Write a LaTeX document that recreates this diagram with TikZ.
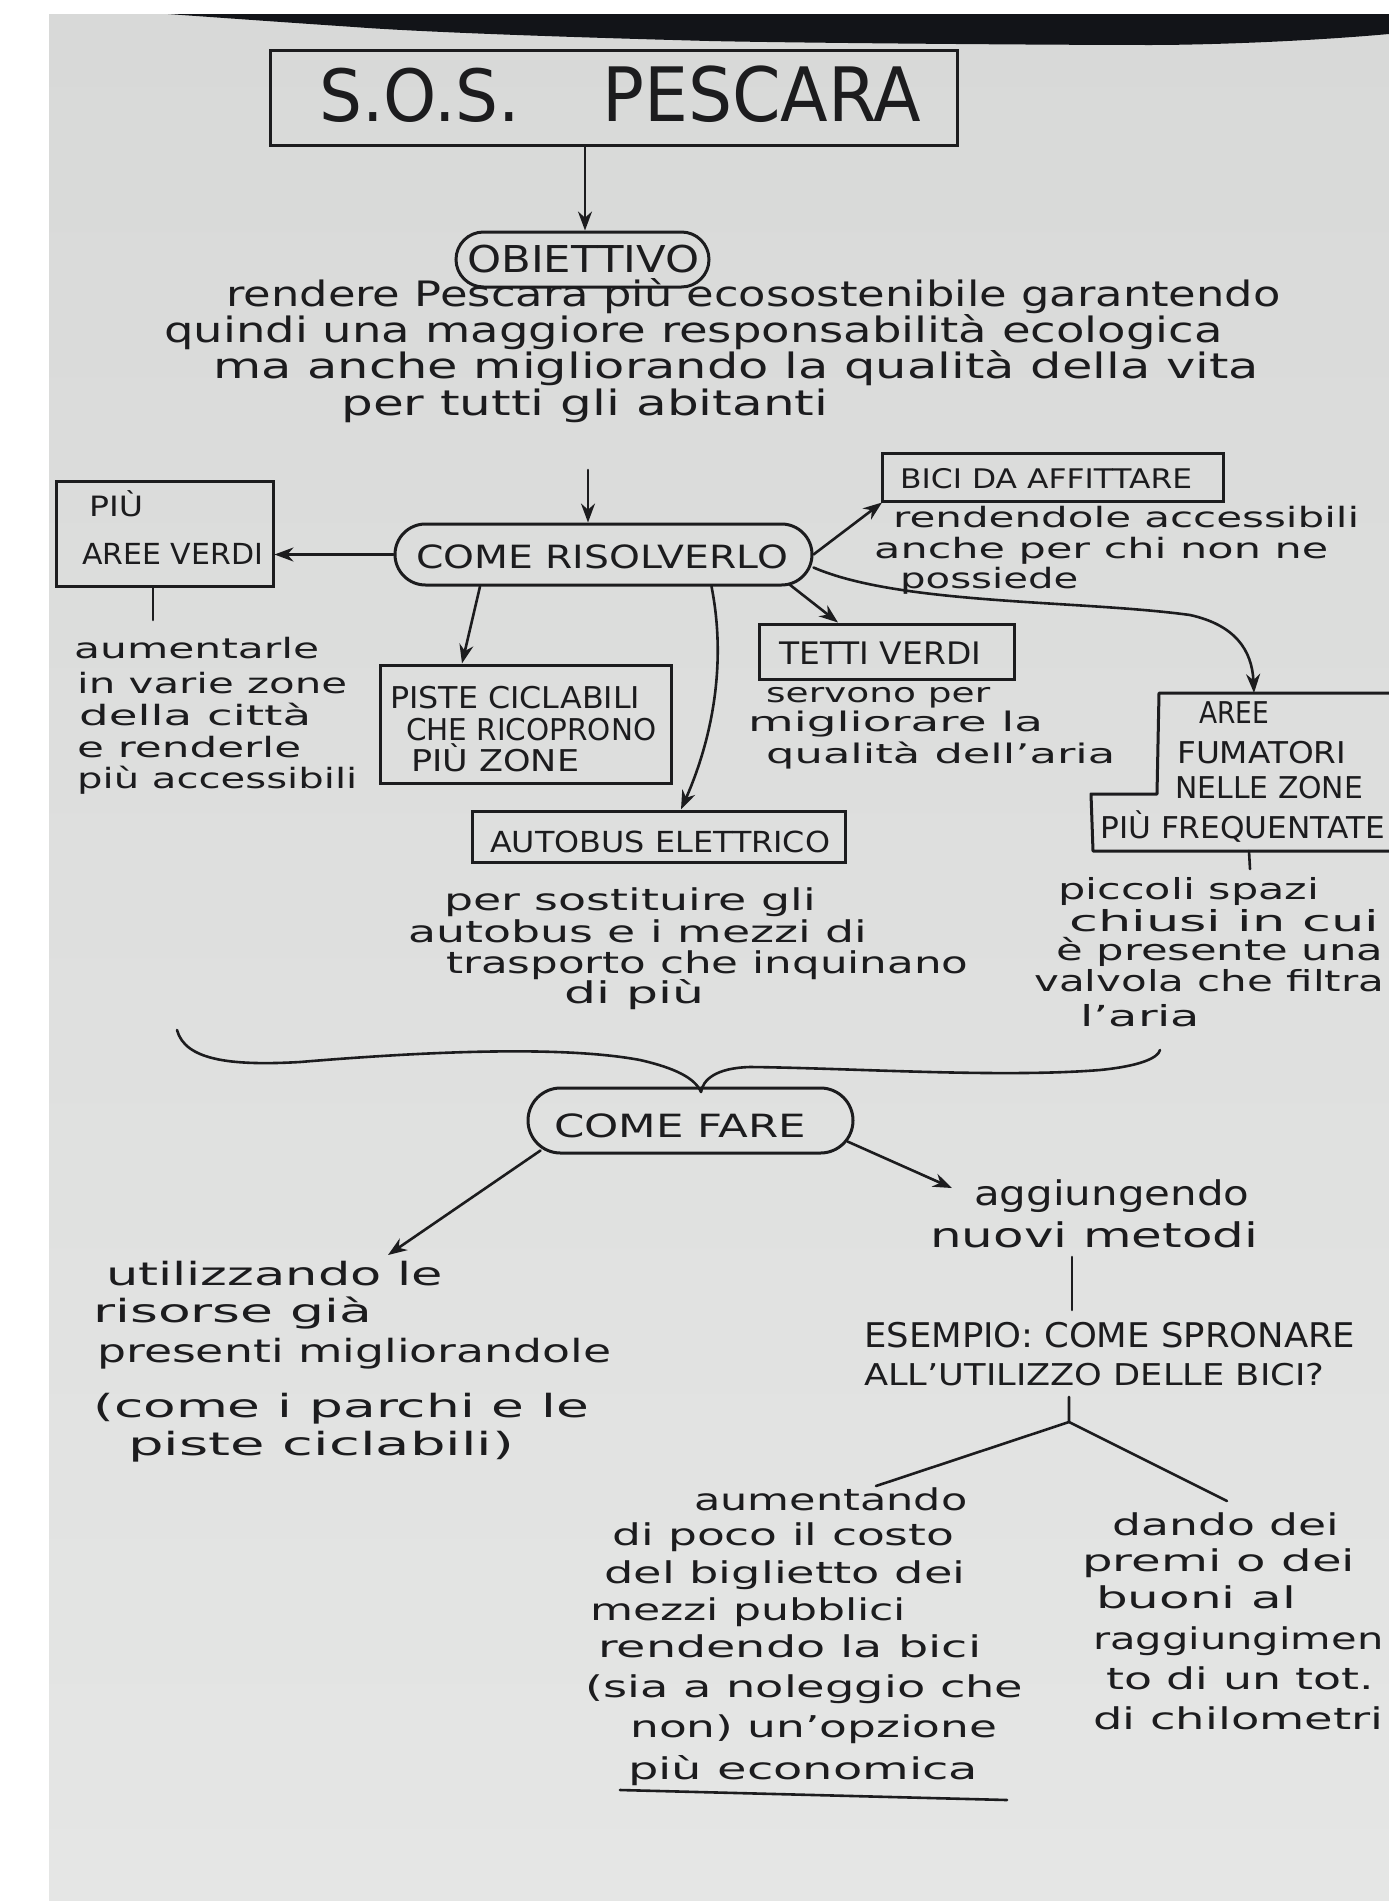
\documentclass[tikz,border=0pt]{standalone}
\usepackage{fontspec}
\setmainfont{DejaVu Sans}
\usepackage{graphicx}
\usetikzlibrary{arrows.meta,shapes.misc,calc}
\definecolor{ink}{RGB}{28,28,30}
\definecolor{paperA}{RGB}{216,217,216}
\definecolor{paperB}{RGB}{229,230,229}
\definecolor{darkband}{RGB}{18,20,24}
\newcommand\fitt[3]{\resizebox{#1pt}{#2pt}{\rule{0pt}{1em}#3}}
\tikzset{
  txt/.style={anchor=base west, inner sep=0pt, text=ink},
  box/.style={draw=ink, line width=3pt, inner sep=0pt},
  oval/.style={rounded rectangle, draw=ink, line width=3pt, inner sep=0pt},
  conn/.style={draw=ink, line width=2.6pt, line cap=round},
  arr/.style={conn, -{Stealth[length=19pt,width=14pt]}},
}
\begin{document}
\begin{tikzpicture}[x=1pt,y=-1pt]
\useasboundingbox (0,0) rectangle (1389,1901);
% background
\fill[white] (0,0) rectangle (1389,1901);
\shade[top color=paperA, bottom color=paperB] (49,14) -- (1389,14) -- (1389,1901) -- (49,1901) -- cycle;
\fill[darkband] (168,14) -- (1389,14) -- (1389,34) .. controls (1300,42) and (1200,45) .. (1151,45)
  .. controls (1050,45) and (800,43) .. (709,41) .. controls (560,37) and (420,32) .. (354,27)
  .. controls (280,22) and (210,17) .. (168,14) -- cycle;

% title
\node[box, minimum width=687pt, minimum height=95pt] (title) at (613.5,97.5) {};
\node[txt] (sos) at (319,121) {\fitt{201}{72}{S.O.S.}};
\node[txt] (pescara) at (602,121) {\fitt{319}{75}{PESCARA}};

% obiettivo
\node[oval, minimum width=253pt, minimum height=55pt] (ob) at (582.5,259.5) {};
\node[txt] (obt) at (467,272) {\fitt{232}{37}{OBIETTIVO}};
\draw[arr] ([xshift=-28.5pt]title.south) -- ([xshift=-28.5pt]title.south |- ob.north);

\node[txt] (p1) at (226,306) {\fitt{1054}{35}{rendere Pescara più ecosostenibile garantendo}};
\node[txt] (p2) at (164,342) {\fitt{1058}{35}{quindi una maggiore responsabilità ecologica}};
\node[txt] (p3) at (213,378) {\fitt{1045}{35}{ma anche migliorando la qualità della vita}};
\node[txt] (p4) at (341,415) {\fitt{487}{35}{per tutti gli abitanti}};
\coordinate (pa) at (588,470);

% come risolverlo
\node[oval, minimum width=417pt, minimum height=61pt] (cr) at (603.5,554.5) {};
\node[txt] (crt) at (416,568) {\fitt{372}{32}{COME RISOLVERLO}};
\draw[arr] (pa) -- (pa |- cr.north);

% piu aree verdi
\node[box, minimum width=217pt, minimum height=105pt] (av) at (164.5,533.5) {};
\node[txt] (av1) at (89,516) {\fitt{54}{28}{PIÙ}};
\node[txt] (av2) at (82,564) {\fitt{181}{29}{AREE VERDI}};
\draw[arr] (cr.west) -- (cr.west -| av.east);
\coordinate (avl) at (153,620);
\draw[conn] ([xshift=-11.5pt]av.south) -- (avl);
\node[txt] (a1) at (74,658) {\fitt{245}{28}{aumentarle}};
\node[txt] (a2) at (77,693) {\fitt{270}{28}{in varie zone}};
\node[txt] (a3) at (79,725) {\fitt{232}{28}{della città}};
\node[txt] (a4) at (77,757) {\fitt{224}{28}{e renderle}};
\node[txt] (a5) at (77,788) {\fitt{280}{28}{più accessibili}};

% piste ciclabili
\node[box, minimum width=291pt, minimum height=118pt] (pc) at (525.5,724) {};
\node[txt] (pc1) at (390,708) {\fitt{250}{30}{PISTE CICLABILI}};
\node[txt] (pc2) at (406,740) {\fitt{250}{30}{CHE RICOPRONO}};
\node[txt] (pc3) at (411,771) {\fitt{168}{30}{PIÙ ZONE}};
\draw[arr] ([xshift=-123.5pt]cr.south) -- ([xshift=-63.5pt]pc.north);

% autobus elettrico
\node[box, minimum width=373pt, minimum height=51pt] (ab) at (658.5,836.5) {};
\node[txt] (abt) at (490,852) {\fitt{340}{29}{AUTOBUS ELETTRICO}};
\draw[arr] ([xshift=108pt]cr.south) .. controls (730,680) and (703,760) .. ([xshift=22.5pt]ab.north);
\node[txt] (b1) at (444,910) {\fitt{372}{30}{per sostituire gli}};
\node[txt] (b2) at (408,942) {\fitt{459}{30}{autobus e i mezzi di}};
\node[txt] (b3) at (446,973) {\fitt{522}{30}{trasporto che inquinano}};
\node[txt] (b4) at (564,1003) {\fitt{140}{30}{di più}};

% tetti verdi
\node[box, minimum width=255pt, minimum height=55pt] (tv) at (886.5,651.5) {};
\node[txt] (tvt) at (779,664) {\fitt{202}{31}{TETTI VERDI}};
\draw[arr] ([xshift=186pt,yshift=2pt]cr.south) -- ([xshift=-48.5pt]tv.north);
\node[txt] (t1) at (766,702) {\fitt{224}{27}{servono per}};
\node[txt] (t2) at (748,731) {\fitt{295}{27}{migliorare la}};
\node[txt] (t3) at (766,763) {\fitt{349}{27}{qualità dell'aria}};

% bici da affittare
\node[box, minimum width=341pt, minimum height=48pt] (bd) at (1052.5,477) {};
\node[txt] (bdt) at (900,488) {\fitt{292}{27}{BICI DA AFFITTARE}};
\draw[arr] (cr.east) -- ([xshift=-170.5pt]bd.south);
\node[txt] (r1) at (893,527) {\fitt{466}{28}{rendendole accessibili}};
\node[txt] (r2) at (874,558) {\fitt{454}{28}{anche per chi non ne}};
\node[txt] (r3) at (900,588) {\fitt{178}{28}{possiede}};

% aree fumatori
\draw[box, line join=round] (1400,693) -- (1159,693) -- (1157,794) -- (1091,794) -- (1093,851) -- (1400,851);
\coordinate (aftop) at (1254,693);
\coordinate (afbot) at (1249,851);
\coordinate (afl) at (1250,869);
\node[txt] (af1) at (1199,723) {\fitt{70}{30}{AREE}};
\node[txt] (af2) at (1177,763) {\fitt{169}{30}{FUMATORI}};
\node[txt] (af3) at (1175,798) {\fitt{188}{30}{NELLE ZONE}};
\node[txt] (af4) at (1100,838) {\fitt{285}{30}{PIÙ FREQUENTATE}};
\draw[arr] ([yshift=-13pt]cr.east) .. controls (900,605) and (1080,600) .. (1190,615)
  .. controls (1235,625) and (1252,650) .. (aftop);
\draw[conn] (afbot) -- (afl);
\node[txt] (f1) at (1058,899) {\fitt{261}{29}{piccoli spazi}};
\node[txt] (f2) at (1069,931) {\fitt{310}{29}{chiusi in cui}};
\node[txt] (f3) at (1056,960) {\fitt{327}{29}{è presente una}};
\node[txt] (f4) at (1034,991) {\fitt{350}{29}{valvola che filtra}};
\node[txt] (f5) at (1080,1026) {\fitt{120}{29}{l'aria}};

% brace and come fare
\node[oval, minimum width=325pt, minimum height=65pt] (cf) at (690.5,1120.5) {};
\node[txt] (cft) at (554,1137) {\fitt{252}{32}{COME FARE}};
\coordinate (btip) at (701,1092);
\draw[conn] (177,1030) .. controls (185,1060) and (230,1066) .. (300,1062)
  .. controls (420,1052) and (560,1045) .. (640,1060)
  .. controls (675,1068) and (695,1078) .. (btip);
\draw[conn] (btip) .. controls (703,1080) and (715,1068) .. (750,1067)
  .. controls (850,1068) and (1000,1078) .. (1100,1070)
  .. controls (1140,1066) and (1158,1058) .. (1160,1050);

\coordinate (ul) at (388,1255);
\coordinate (ag) at (952,1188);
\draw[arr] ([xshift=-150pt,yshift=4pt]cf.south) -- (ul);
\draw[arr] ([xshift=-7pt,yshift=-21pt]cf.east) -- (ag);

\node[txt] (u1) at (106,1285) {\fitt{337}{32}{utilizzando le}};
\node[txt] (u2) at (93,1322) {\fitt{279}{32}{risorse già}};
\node[txt] (u3) at (97,1362) {\fitt{514}{32}{presenti migliorandole}};
\node[txt] (u4) at (93,1417) {\fitt{496}{32}{(come i parchi e le}};
\node[txt] (u5) at (128,1455) {\fitt{386}{32}{piste ciclabili)}};

\node[txt] (g1) at (974,1205) {\fitt{275}{34}{aggiungendo}};
\node[txt] (g2) at (930,1247) {\fitt{328}{34}{nuovi metodi}};
\coordinate (gs1) at (1072,1257);
\coordinate (gs2) at (1072,1310);
\draw[conn] (gs1) -- (gs2);
\node[txt] (e1) at (864,1347) {\fitt{491}{34}{ESEMPIO: COME SPRONARE}};
\node[txt] (e2) at (864,1385) {\fitt{460}{30}{ALL'UTILIZZO DELLE BICI?}};
\coordinate (ts) at (1069,1397);
\coordinate (tj) at (1069,1422);
\coordinate (tl) at (876,1486);
\coordinate (tr) at (1227,1501);
\draw[conn] (ts) -- (tj) -- (tl);
\draw[conn] (tj) -- (tr);

\node[txt] (m1) at (694,1510) {\fitt{273}{30}{aumentando}};
\node[txt] (m2) at (612,1545) {\fitt{342}{30}{di poco il costo}};
\node[txt] (m3) at (604,1583) {\fitt{361}{30}{del biglietto dei}};
\node[txt] (m4) at (590,1620) {\fitt{316}{30}{mezzi pubblici}};
\node[txt] (m5) at (598,1657) {\fitt{383}{30}{rendendo la bici}};
\node[txt] (m6) at (585,1697) {\fitt{438}{30}{(sia a noleggio che}};
\node[txt] (m7) at (630,1737) {\fitt{367}{30}{non) un'opzione}};
\node[txt] (m8) at (628,1779) {\fitt{350}{30}{più economica}};
\coordinate (ua) at (620,1790);
\coordinate (ub) at (1007,1800);
\draw[conn] (ua) -- (ub);

\node[txt] (d1) at (1112,1535) {\fitt{227}{30}{dando dei}};
\node[txt] (d2) at (1082,1571) {\fitt{273}{30}{premi o dei}};
\node[txt] (d3) at (1096,1608) {\fitt{200}{30}{buoni al}};
\node[txt] (d4) at (1093,1649) {\fitt{290}{30}{raggiungimen}};
\node[txt] (d5) at (1106,1689) {\fitt{268}{30}{to di un tot.}};
\node[txt] (d6) at (1093,1729) {\fitt{290}{30}{di chilometri}};
\end{tikzpicture}
\end{document}
